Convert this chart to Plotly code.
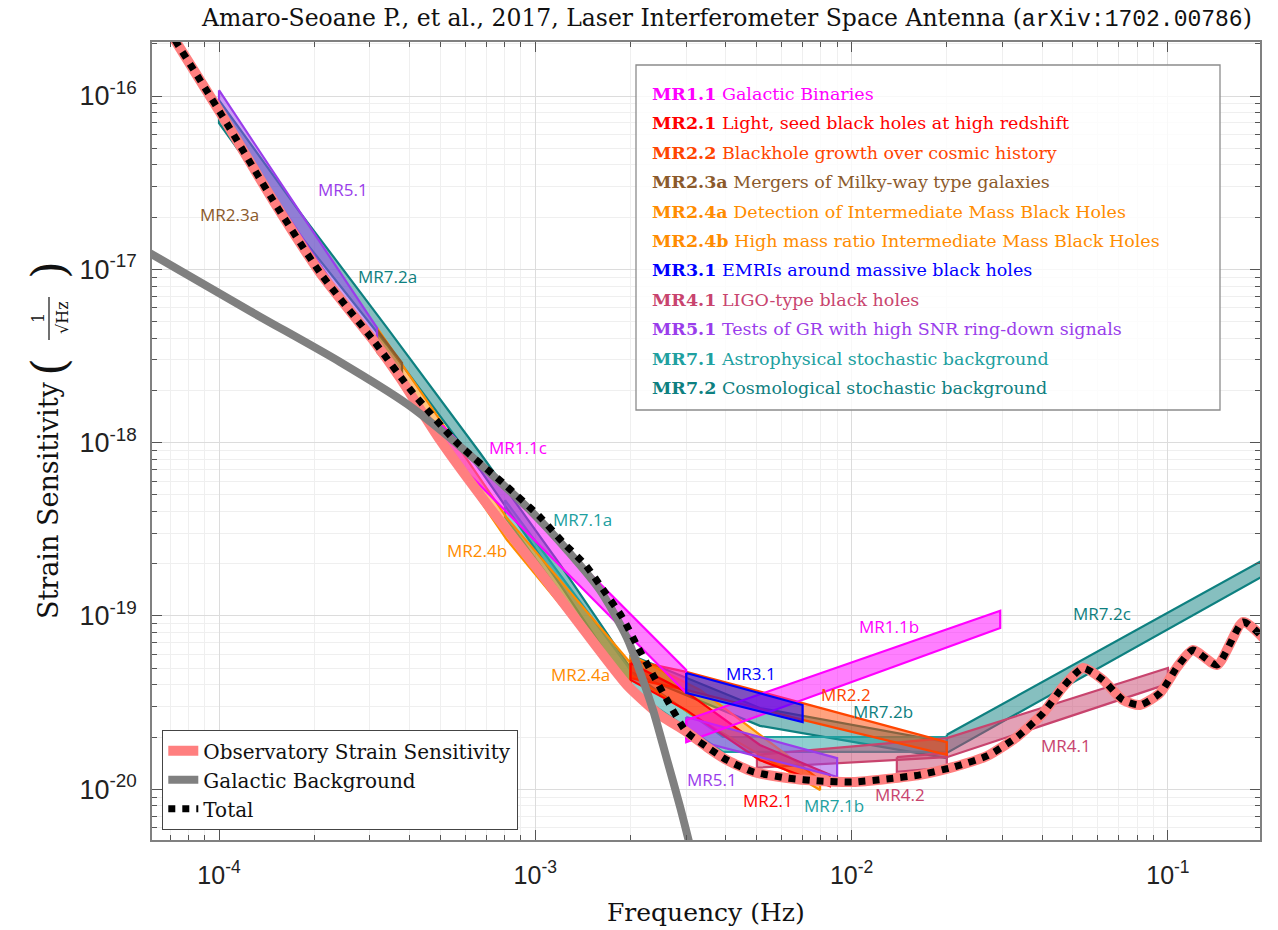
import numpy as np
import plotly.graph_objects as go

# ---------------------------------------------------------------- axes limits
FREQ_RANGE = [6.14e-5, 0.1955]      # Hz
STRAIN_RANGE = [5.09e-21, 2.05e-16]  # 1/sqrt(Hz)

# ---------------------------------------------------------------- sensitivity curves
# low-frequency part of the instrument noise
obs_head_f = [6.51e-5, 1.02e-4, 1.48e-4, 2.09e-4, 3.07e-4, 3.74e-4, 5.0e-4, 7.19e-4,
              1.0e-3, 1.41e-3, 1.95e-3, 2.48e-3]
obs_head_h = [2.89e-16, 7.77e-17, 2.51e-17, 9.52e-18, 3.91e-18, 2.36e-18, 1.035e-18,
              4.19e-19, 1.94e-19, 8.51e-20, 3.99e-20, 2.68e-20]
# low-frequency part of the total (instrument + confusion noise)
tot_head_f = [6.51e-5, 1.02e-4, 1.48e-4, 2.09e-4, 3.07e-4, 4.11e-4, 5.66e-4, 7.91e-4,
              1.035e-3, 1.22e-3, 1.44e-3, 1.66e-3, 1.88e-3, 2.11e-3, 2.31e-3, 2.61e-3]
tot_head_h = [2.89e-16, 7.77e-17, 2.51e-17, 9.52e-18, 3.91e-18, 1.93e-18, 9.95e-19,
              5.85e-19, 3.72e-19, 2.67e-19, 1.97e-19, 1.37e-19, 9.86e-20, 6.61e-20,
              4.87e-20, 3.27e-20]
# common high-frequency part (confusion noise negligible above 3 mHz)
tail_f = [3.0e-3, 3.49e-3, 4.04e-3, 4.88e-3, 6.25e-3, 7.95e-3, 1.01e-2, 1.29e-2, 1.645e-2,
          2.09e-2, 2.68e-2, 3.33e-2, 4.03e-2, 4.66e-2, 5.39e-2, 6.23e-2, 7.21e-2, 8.16e-2,
          9.44e-2, 0.107, 0.12, 0.143, 0.173, 0.203]
tail_h = [2.15e-20, 1.75e-20, 1.47e-20, 1.26e-20, 1.16e-20, 1.115e-20, 1.1e-20, 1.145e-20,
          1.21e-20, 1.34e-20, 1.555e-20, 2.0e-20, 2.75e-20, 3.89e-20, 5.0e-20, 4.27e-20,
          3.27e-20, 3.06e-20, 3.59e-20, 5.07e-20, 6.35e-20, 5.21e-20, 9.22e-20, 7.26e-20]
# galactic binary confusion background
gal_f = [6.05e-5, 1.253e-4, 2.413e-4, 3.93e-4, 5.375e-4, 7.735e-4, 9.83e-4, 1.26e-3,
         1.60e-3, 1.95e-3, 2.143e-3, 2.356e-3, 2.61e-3, 2.87e-3, 3.08e-3]
gal_h = [1.24e-17, 5.745e-18, 2.918e-18, 1.67e-18, 1.063e-18, 5.925e-19, 3.92e-19, 2.40e-19,
         1.411e-19, 7.46e-20, 4.745e-20, 2.864e-20, 1.474e-20, 7.89e-21, 4.76e-21]

# ---------------------------------------------------------------- science requirement bands
mr51a_f, mr51a_top, mr51a_bot = [1.0e-4, 3.16e-4], [1.08e-16, 4.59e-18], [7.98e-17, 3.42e-18]
mr51b_f, mr51b_top, mr51b_bot = [3.0e-3, 9.0e-3], [2.61e-20, 1.51e-20], [1.97e-20, 1.18e-20]
mr72a_f = [1.0e-4, 1.8e-4, 3.4e-4, 6.69e-4, 1.2e-3, 2.0e-3]
mr72a_top = [9.48e-17, 2.14e-17, 4.59e-18, 8.71e-19, 1.97e-19, 5.0e-20]
mr72a_bot = [6.98e-17, 1.58e-17, 3.66e-18, 6.95e-19, 1.51e-19, 3.74e-20]
mr72b_f, mr72b_top, mr72b_bot = [2.0e-3, 5.13e-3, 2.0e-2], [5.95e-20, 2.94e-20, 1.87e-20], [4.75e-20, 2.32e-20, 1.51e-20]
mr72c_f, mr72c_top, mr72c_bot = [2.0e-2, 0.2], [2.06e-20, 2.1e-19], [1.62e-20, 1.70e-19]
mr71a_f, mr71a_top, mr71a_bot = [8.02e-4, 2.0e-3], [4.66e-19, 4.87e-20], [3.72e-19, 3.74e-20]
mr71b_f, mr71b_top, mr71b_bot = [2.0e-3, 3.92e-3, 2.0e-2], [4.75e-20, 2.0e-20, 2.0e-20], [3.74e-20, 1.64e-20, 1.64e-20]
mr41_f, mr41_top, mr41_bot = [5.02e-3, 2.0e-2, 0.1], [1.58e-20, 1.97e-20, 5.0e-20], [1.33e-20, 1.53e-20, 4.05e-20]
mr42_f, mr42_top, mr42_bot = [1.39e-2, 2.0e-2], [1.53e-20, 1.62e-20], [1.26e-20, 1.33e-20]
mr24b_f, mr24b_top, mr24b_bot = [3.16e-4, 8.14e-4, 2.0e-3], [4.59e-18, 3.67e-19, 5.35e-20], [3.42e-18, 2.74e-19, 3.74e-20]
mr24a_f, mr24a_top, mr24a_bot = [2.0e-3, 3.32e-3, 7.95e-3], [5.95e-20, 3.74e-20, 1.13e-20], [4.56e-20, 2.51e-20, 9.89e-21]
mr23a_f, mr23a_top, mr23a_bot = [3.16e-4, 3.79e-4], [4.47e-18, 2.88e-18], [3.33e-18, 2.24e-18]
mr22_f, mr22_top, mr22_bot = [2.0e-3, 3.0e-3, 7.0e-3, 2.0e-2], [5.57e-20, 4.75e-20, 3.14e-20, 1.87e-20], [4.38e-20, 3.74e-20, 2.51e-20, 1.58e-20]
mr21_f, mr21_top, mr21_bot = [2.0e-3, 3.0e-3, 5.13e-3, 8.54e-3], [5.35e-20, 3.64e-20, 1.80e-20, 1.21e-20], [4.27e-20, 2.86e-20, 1.47e-20, 1.04e-20]
mr11c_f, mr11c_top, mr11c_bot = [5.07e-4, 3.0e-3], [1.26e-18, 4.87e-20], [9.43e-19, 3.59e-20]
mr11b_f, mr11b_top, mr11b_bot = [3.0e-3, 2.95e-2], [2.51e-20, 1.07e-19], [1.87e-20, 8.51e-20]
mr31_f, mr31_top, mr31_bot = [3.0e-3, 7.0e-3], [4.68e-20, 3.06e-20], [3.59e-20, 2.44e-20]

# ---------------------------------------------------------------- band labels
label_text = ['MR2.3a', 'MR5.1', 'MR7.2a', 'MR1.1c', 'MR7.1a', 'MR2.4b', 'MR2.4a', 'MR3.1',
              'MR2.2', 'MR7.2b', 'MR1.1b', 'MR7.2c', 'MR4.1', 'MR5.1', 'MR2.1', 'MR7.1b', 'MR4.2']
label_f = [1.076e-4, 2.466e-4, 3.42e-4, 8.82e-4, 1.405e-3, 6.54e-4, 1.385e-3, 4.81e-3,
           9.60e-3, 1.257e-2, 1.313e-2, 6.19e-2, 4.76e-2, 3.62e-3, 5.44e-3, 8.80e-3, 1.42e-2]
label_h = [2.06e-17, 2.87e-17, 9.03e-18, 9.43e-19, 3.58e-19, 2.40e-19, 4.56e-20, 4.68e-20,
           3.50e-20, 2.79e-20, 8.63e-20, 1.026e-19, 1.776e-20, 1.13e-20, 8.66e-21, 8.0e-21, 9.26e-21]

# ---------------------------------------------------------------- requirement list
req_codes = ['MR1.1', 'MR2.1', 'MR2.2', 'MR2.3a', 'MR2.4a', 'MR2.4b', 'MR3.1', 'MR4.1',
             'MR5.1', 'MR7.1', 'MR7.2']
req_names = ['Galactic Binaries', 'Light, seed black holes at high redshift',
             'Blackhole growth over cosmic history', 'Mergers of Milky-way type galaxies',
             'Detection of Intermediate Mass Black Holes',
             'High mass ratio Intermediate Mass Black Holes', 'EMRIs around massive black holes',
             'LIGO-type black holes', 'Tests of GR with high SNR ring-down signals',
             'Astrophysical stochastic background', 'Cosmological stochastic background']

# ---------------------------------------------------------------- colours / fonts
C = {
    'MR1.1': '#FF00FF', 'MR2.1': '#FF0000', 'MR2.2': '#FF4500', 'MR2.3a': '#8B5A2B',
    'MR2.4a': '#FF8C00', 'MR2.4b': '#FF8C00', 'MR3.1': '#0000FF', 'MR4.1': '#C8446E',
    'MR5.1': '#9A3DEB', 'MR7.1': '#20A0A0', 'MR7.2': '#0E8080',
}
C_OBS = '#FF7F7F'
C_GAL = '#808080'
SERIF = 'DejaVu Serif, Liberation Serif, serif'
SANS = 'Open Sans, Liberation Sans, sans-serif'
INK = '#111'


def rgba(hex_color, alpha):
    h = hex_color.lstrip('#')
    r, g, b = int(h[0:2], 16), int(h[2:4], 16), int(h[4:6], 16)
    return f'rgba({r},{g},{b},{alpha})'


# plot area in pixels: x 152..1260, y 42..840
def px(X):
    return (X - 152) / 1108.0


def py(Y):
    return (840 - Y) / 798.0


fig = go.Figure()

bands = [
    (mr72a_f, mr72a_top, mr72a_bot, 'MR7.2'),
    (mr72b_f, mr72b_top, mr72b_bot, 'MR7.2'),
    (mr72c_f, mr72c_top, mr72c_bot, 'MR7.2'),
    (mr71a_f, mr71a_top, mr71a_bot, 'MR7.1'),
    (mr71b_f, mr71b_top, mr71b_bot, 'MR7.1'),
    (mr41_f, mr41_top, mr41_bot, 'MR4.1'),
    (mr42_f, mr42_top, mr42_bot, 'MR4.1'),
    (mr24b_f, mr24b_top, mr24b_bot, 'MR2.4b'),
    (mr24a_f, mr24a_top, mr24a_bot, 'MR2.4a'),
    (mr23a_f, mr23a_top, mr23a_bot, 'MR2.3a'),
    (mr22_f, mr22_top, mr22_bot, 'MR2.2'),
    (mr21_f, mr21_top, mr21_bot, 'MR2.1'),
    (mr51a_f, mr51a_top, mr51a_bot, 'MR5.1'),
    (mr51b_f, mr51b_top, mr51b_bot, 'MR5.1'),
    (mr11c_f, mr11c_top, mr11c_bot, 'MR1.1'),
    (mr11b_f, mr11b_top, mr11b_bot, 'MR1.1'),
    (mr31_f, mr31_top, mr31_bot, 'MR3.1'),
]
for f, top, bot, key in bands:
    xs = list(f) + list(f)[::-1] + [f[0]]
    ys = list(top) + list(bot)[::-1] + [top[0]]
    fig.add_trace(go.Scatter(
        x=xs, y=ys, mode='lines', fill='toself', fillcolor=rgba(C[key], 0.5),
        line=dict(color=C[key], width=2.2), showlegend=False, hoverinfo='skip'))

fig.add_trace(go.Scatter(
    x=obs_head_f + tail_f, y=obs_head_h + tail_h, mode='lines',
    name='Observatory Strain Sensitivity',
    line=dict(color=C_OBS, width=10, shape='spline', smoothing=0.6)))
fig.add_trace(go.Scatter(
    x=gal_f, y=gal_h, mode='lines', name='Galactic Background',
    line=dict(color=C_GAL, width=8, shape='spline', smoothing=0.8)))
fig.add_trace(go.Scatter(
    x=tot_head_f + tail_f, y=tot_head_h + tail_h, mode='lines', name='Total',
    line=dict(color='black', width=7, dash='7px,7px', shape='spline', smoothing=0.6)))

# ---------------------------------------------------------------- annotations
annotations = []
label_colors = ['MR2.3a', 'MR5.1', 'MR7.2', 'MR1.1', 'MR7.1', 'MR2.4b', 'MR2.4a', 'MR3.1',
                'MR2.2', 'MR7.2', 'MR1.1', 'MR7.2', 'MR4.1', 'MR5.1', 'MR2.1', 'MR7.1', 'MR4.1']
for t, f, h, k in zip(label_text, label_f, label_h, label_colors):
    annotations.append(dict(x=np.log10(f), y=np.log10(h), xref='x', yref='y', text=t,
                            xanchor='center', yanchor='middle', showarrow=False,
                            font=dict(family=SANS, size=17, color=C[k])))

for i, (code, name) in enumerate(zip(req_codes, req_names)):
    annotations.append(dict(
        x=px(650), y=py(94 + i * 29.4), xref='paper', yref='paper', xanchor='left',
        yanchor='middle', showarrow=False, text=f'<b>{code}</b> {name}',
        font=dict(family=SERIF, size=17.5, color=C[code])))


def paper_text(X, Y, text, size, angle=0):
    return dict(x=px(X), y=py(Y), xref='paper', yref='paper', xanchor='center',
                yanchor='middle', showarrow=False, text=text, textangle=angle,
                font=dict(family=SERIF, size=size, color=INK))


annotations += [
    paper_text(726, 18,
               'Amaro-Seoane P., et al., 2017, Laser Interferometer Space Antenna ('
               '<span style="font-family:Liberation Mono;font-size:23px">arXiv:1702.00786</span>)',
               23.5),
    paper_text(706, 912, 'Frequency (Hz)', 25),
    paper_text(48, 500, 'Strain Sensitivity', 27, -90),
    paper_text(49, 367, '(', 46, -90),
    paper_text(49, 270, ')', 46, -90),
    paper_text(38, 318, '1', 16, -90),
    paper_text(62, 318, '√Hz', 16, -90),
]

shapes = [
    dict(type='line', xref='paper', yref='paper', x0=px(49), x1=px(49), y0=py(297), y1=py(340),
         line=dict(color=INK, width=1.2)),
    dict(type='rect', xref='paper', yref='paper', x0=px(636), x1=px(1220), y0=py(410), y1=py(65),
         fillcolor='rgba(255,255,255,0.8)', line=dict(color='#8c8c8c', width=1.3), layer='above'),
]

x_major = [1e-4, 1e-3, 1e-2, 1e-1]
x_major_text = ['10<sup>-4</sup>', '10<sup>-3</sup>', '10<sup>-2</sup>', '10<sup>-1</sup>']
y_major = [1e-20, 1e-19, 1e-18, 1e-17, 1e-16]
y_major_text = ['10<sup>-20</sup>', '10<sup>-19</sup>', '10<sup>-18</sup>', '10<sup>-17</sup>',
                '10<sup>-16</sup>']
x_minor = [m * 10.0 ** k for k in range(-5, 0) for m in range(2, 10)]
y_minor = [m * 10.0 ** k for k in range(-21, -15) for m in range(2, 10)]

axis_common = dict(
    type='log', ticks='inside', ticklen=10, tickwidth=1, tickcolor='#555',
    showline=True, linecolor='#808080', linewidth=1.5, mirror='ticks',
    showgrid=True, gridcolor='#dcdcdc', gridwidth=1, zeroline=False,
)

fig.update_layout(
    width=1278, height=930,
    margin=dict(l=152, r=18, t=42, b=90),
    paper_bgcolor='white', plot_bgcolor='white',
    xaxis=dict(range=[np.log10(FREQ_RANGE[0]), np.log10(FREQ_RANGE[1])],
               tickmode='array', tickvals=x_major, ticktext=x_major_text,
               ticklabelstandoff=12,
               tickfont=dict(family='Liberation Sans, Arial, sans-serif', size=25, color='#222'),
               minor=dict(tickmode='array', tickvals=x_minor, ticks='inside', ticklen=5,
                          tickcolor='#555', showgrid=True, gridcolor='#efefef'),
               **axis_common),
    yaxis=dict(range=[np.log10(STRAIN_RANGE[0]), np.log10(STRAIN_RANGE[1])],
               tickmode='array', tickvals=y_major, ticktext=y_major_text,
               ticklabelstandoff=8,
               tickfont=dict(family='Liberation Sans, Arial, sans-serif', size=27, color='#222'),
               minor=dict(tickmode='array', tickvals=y_minor, ticks='inside', ticklen=5,
                          tickcolor='#555', showgrid=True, gridcolor='#efefef'),
               **axis_common),
    legend=dict(x=px(162), y=py(830), xanchor='left', yanchor='bottom',
                bgcolor='white', bordercolor='#444', borderwidth=1.3,
                font=dict(family=SERIF, size=20, color=INK),
                itemwidth=30, tracegroupgap=0),
    annotations=annotations,
    shapes=shapes,
    showlegend=True,
)

fig.write_html('out.html')
